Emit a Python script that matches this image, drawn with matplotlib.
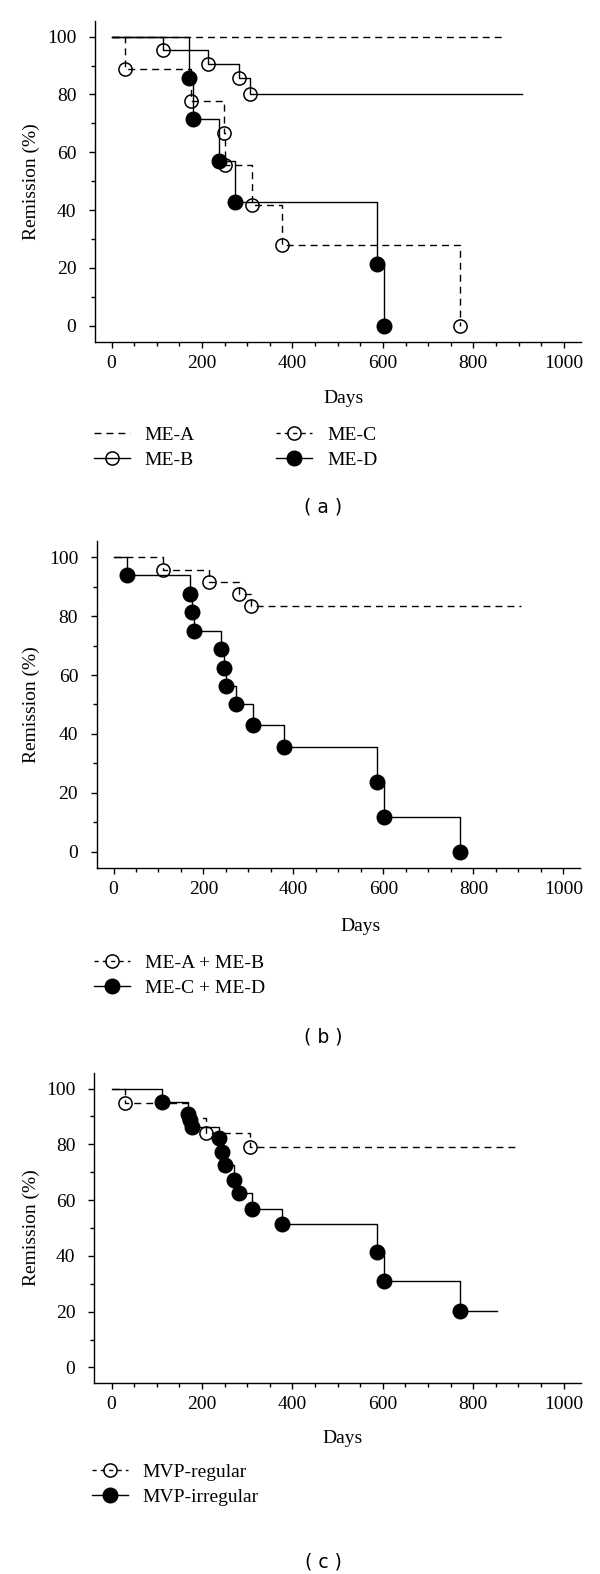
import numpy as np
import matplotlib
matplotlib.use('Agg')
import matplotlib.pyplot as plt
from matplotlib.ticker import MultipleLocator
from matplotlib.lines import Line2D

plt.rcParams['font.family'] = ['Liberation Serif', 'DejaVu Serif']
plt.rcParams['lines.scale_dashes'] = False

W, H = 600, 1574

# ---- panel (a): event days and survival (%) per group
a_A_end = 868
a_B_t = [113, 213, 281, 307]
a_B_s = [95.2, 90.5, 85.7, 80.0]
a_B_end = 908
a_C_t = [30, 175, 248, 252, 310, 378, 770]
a_C_s = [88.9, 77.8, 66.7, 55.6, 41.7, 27.8, 0.0]
a_D_t = [172, 181, 238, 273, 587, 602]
a_D_s = [85.7, 71.4, 57.1, 42.9, 21.4, 0.0]

# ---- panel (b)
b_AB_t = [111, 213, 280, 305]
b_AB_s = [95.8, 91.7, 87.5, 83.3]
b_AB_end = 906
b_CD_t = [30, 171, 175, 179, 238, 246, 250, 273, 310, 378, 586, 601, 770]
b_CD_s = [93.8, 87.5, 81.3, 75.0, 68.8, 62.5, 56.3, 50.0, 42.9, 35.7, 23.8, 11.9, 0.0]

# ---- panel (c)
c_reg_t = [30, 172, 210, 306]
c_reg_s = [94.7, 89.5, 84.2, 78.9]
c_reg_end = 902
c_irr_t = [112, 170, 174, 179, 238, 245, 251, 272, 281, 310, 377, 587, 602, 770]
c_irr_s = [95.2, 90.9, 88.6, 86.4, 82.2, 77.4, 72.6, 67.2, 62.4, 56.8, 51.3, 41.5, 31.1, 20.3]
c_irr_end = 853

DASH = (0, (5, 3.6))
LDASH = (0, (3, 3))
LW = 1.0
FS = 14


def km(ax, t, s, end=None, ls='-', marker=None, z=3):
    x = [0] + list(t)
    y = [100] + list(s)
    if end is not None:
        x.append(end)
        y.append(y[-1])
    ax.step(x, y, where='post', color='black', lw=LW, linestyle=ls, zorder=z)
    if marker == 'open':
        ax.plot(t, s, 'o', ms=9.5, mfc='none', mec='black', mew=1.1, zorder=z + 1)
    elif marker == 'filled':
        ax.plot(t, s, 'o', ms=10.5, mfc='black', mec='black', zorder=z + 2)


def setup(ax, xlim, ylim, days_pos):
    ax.set_xlim(*xlim)
    ax.set_ylim(*ylim)
    for sp_ in ['top', 'right']:
        ax.spines[sp_].set_visible(False)
    for sp_ in ['left', 'bottom']:
        ax.spines[sp_].set_linewidth(1.0)
    ax.xaxis.set_major_locator(MultipleLocator(200))
    ax.xaxis.set_minor_locator(MultipleLocator(50))
    ax.yaxis.set_major_locator(MultipleLocator(20))
    ax.yaxis.set_minor_locator(MultipleLocator(10))
    ax.tick_params(which='major', direction='out', length=4.5, width=1.0, labelsize=FS)
    ax.tick_params(which='minor', direction='out', length=3, width=1.0)
    ax.tick_params(axis='y', pad=9)
    ax.tick_params(axis='x', pad=5)
    ax.set_ylabel('Remission (%)', fontsize=FS)
    ax.set_xlabel('Days', fontsize=FS)
    bb = ax.get_position()
    x0, y1 = bb.x0 * W, (1 - bb.y0) * H
    w, h = bb.width * W, bb.height * H
    ax.yaxis.set_label_coords((40 - x0) / w, 0.5)
    ax.xaxis.set_label_coords((days_pos[0] - x0) / w, (y1 - days_pos[1] + 7) / h)


def legend(fig, handles, labels, x, y, ncol, colsp):
    fig.legend(handles, labels, loc='upper left', bbox_to_anchor=(x / W, 1 - y / H),
               bbox_transform=fig.transFigure, ncol=ncol, frameon=False, fontsize=FS,
               borderpad=0, borderaxespad=0, handlelength=1.85, handletextpad=0.75,
               labelspacing=0.4, columnspacing=colsp)


def h(ls, marker=None):
    if marker == 'open':
        return Line2D([], [], color='black', lw=LW, linestyle=ls, marker='o', ms=9.5,
                      mfc='none', mec='black', mew=1.1)
    if marker == 'filled':
        return Line2D([], [], color='black', lw=LW, linestyle=ls, marker='o', ms=10.5,
                      mfc='black', mec='black')
    return Line2D([], [], color='black', lw=LW, linestyle=ls)


def caption(fig, s, y):
    fig.text(323 / W, 1 - y / H, s, ha='center', va='center', fontsize=13.5,
             family='DejaVu Sans')


fig = plt.figure(figsize=(W / 100, H / 100), dpi=100)

# (a)
ax = fig.add_axes([95 / W, 1 - 341.7 / H, 486 / W, 321 / H])
ax.plot([0, a_A_end], [100, 100], color='black', lw=LW, linestyle=DASH, zorder=2)
km(ax, a_B_t, a_B_s, a_B_end, '-', 'open')
km(ax, a_C_t, a_C_s, None, DASH, 'open')
km(ax, a_D_t, a_D_s, None, '-', 'filled')
setup(ax, (-36.5, 1038), (-5.5, 105.5), (344, 397))
legend(fig, [h(DASH), h('-', 'open'), h(LDASH, 'open'), h('-', 'filled')],
       ['ME-A', 'ME-B', 'ME-C', 'ME-D'], 94, 426, 2, 4.2)
caption(fig, '( a )', 507)

# (b)
ax = fig.add_axes([97 / W, 1 - 868.3 / H, 483 / W, 327.6 / H])
km(ax, b_AB_t, b_AB_s, b_AB_end, DASH, 'open')
km(ax, b_CD_t, b_CD_s, None, '-', 'filled')
setup(ax, (-36.7, 1037), (-5.6, 105.6), (361, 925))
legend(fig, [h(LDASH, 'open'), h('-', 'filled')],
       ['ME-A + ME-B', 'ME-C + ME-D'], 94, 954, 1, 2)
caption(fig, '( b )', 1037)

# (c)
ax = fig.add_axes([94.2 / W, 1 - 1383.3 / H, 486.6 / W, 310.6 / H])
km(ax, c_reg_t, c_reg_s, c_reg_end, DASH, 'open')
km(ax, c_irr_t, c_irr_s, c_irr_end, '-', 'filled')
setup(ax, (-38.3, 1038), (-5.7, 105.7), (343, 1437))
legend(fig, [h(LDASH, 'open'), h('-', 'filled')],
       ['MVP-regular', 'MVP-irregular'], 92, 1463, 1, 2)
caption(fig, '( c )', 1562)

fig.savefig('out.png', dpi=100)
